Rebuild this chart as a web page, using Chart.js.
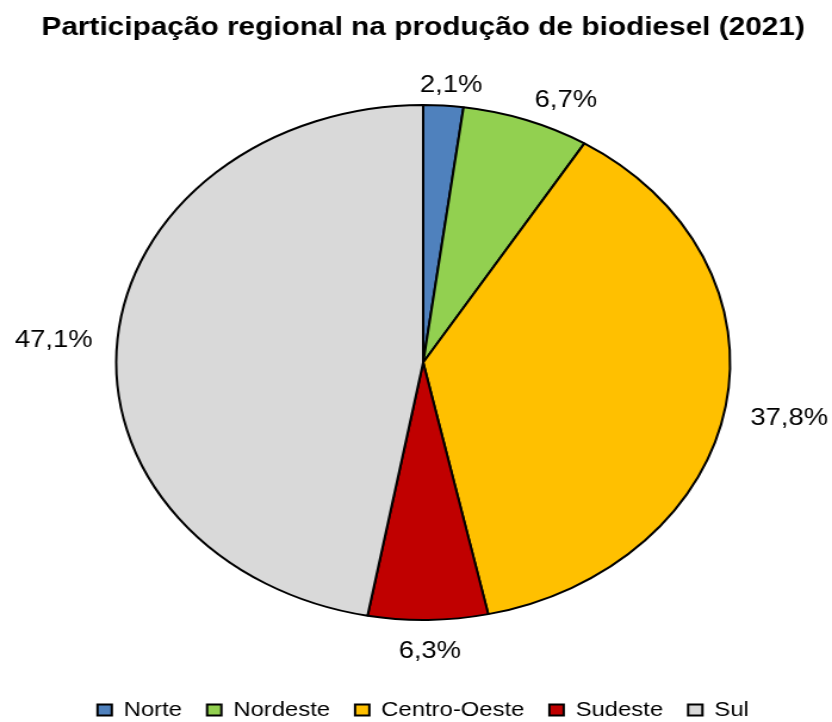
<!DOCTYPE html>
<html><head><meta charset="utf-8">
<script src="https://cdn.jsdelivr.net/npm/chart.js@4/dist/chart.umd.min.js"></script>
<style>
html,body{margin:0;padding:0;background:#fff;overflow:hidden}
#wrap{width:698px;height:722px;transform:scaleX(1.192);transform-origin:0 0}
</style></head><body>
<div id="wrap"><canvas id="c" width="698" height="722"></canvas></div>
<script>
const chartTitle = 'Participação regional na produção de biodiesel (2021)';
const regions = ['Norte', 'Nordeste', 'Centro-Oeste', 'Sudeste', 'Sul'];
const shares = [2.1, 6.7, 37.8, 6.3, 47.1];
const sliceColors = ['#4F81BD', '#92D050', '#FFC000', '#C00000', '#D9D9D9'];

const fmt = v => v.toFixed(1).replace('.', ',') + '%';

const layoutFix = {
  id: 'layoutFix',
  afterLayout(chart) {
    const a = chart.chartArea;
    a.top = 104; a.bottom = 621; a.height = a.bottom - a.top;
    const lg = chart.legend;
    if (lg) {
      const h = lg.bottom - lg.top;
      lg.top = 679; lg.bottom = lg.top + h;
    }
  }
};

const outsideLabels = {
  id: 'outsideLabels',
  afterDatasetsDraw(chart) {
    const ctx = chart.ctx;
    const meta = chart.getDatasetMeta(0);
    const gapX = 21, gapY = 17;
    ctx.save();
    ctx.font = '23px "Liberation Sans", Arial, sans-serif';
    ctx.fillStyle = '#000';
    ctx.textAlign = 'center';
    ctx.textBaseline = 'alphabetic';
    const clamp = v => Math.max(-1, Math.min(1, v));
    meta.data.forEach((arc, i) => {
      const p = arc.getProps(['x', 'y', 'startAngle', 'endAngle', 'outerRadius'], true);
      const mid = (p.startAngle + p.endAngle) / 2;
      const dx = Math.cos(mid), dy = Math.sin(mid);
      const txt = fmt(shares[i]);
      const hw = ctx.measureText(txt).width / 2, hh = 9;
      const ax = p.x + (p.outerRadius + gapX) * dx;
      const ay = p.y + (p.outerRadius + gapY) * dy;
      const cx = ax + hw * clamp(3 * dx);
      const cy = ay + hh * clamp(3 * dy);
      ctx.fillText(txt, cx, cy + 12);
    });
    ctx.restore();
  }
};

new Chart(document.getElementById('c'), {
  type: 'pie',
  data: {
    labels: regions,
    datasets: [{
      data: shares,
      backgroundColor: sliceColors,
      borderColor: '#000',
      borderWidth: 2
    }]
  },
  options: {
    responsive: false,
    animation: false,
    layout: { padding: { left: 12, right: 0, top: 0, bottom: 0 } },
    plugins: {
      title: {
        display: true,
        text: chartTitle,
        color: '#000',
        font: { family: '"Liberation Sans", Arial, sans-serif', size: 25, weight: 'bold' },
        padding: { top: 13, bottom: 20 }
      },
      legend: {
        display: true,
        position: 'bottom',
        labels: {
          color: '#000',
          font: { family: '"Liberation Sans", Arial, sans-serif', size: 20 },
          boxWidth: 12,
          boxHeight: 11,
          padding: 21
        }
      },
      tooltip: { enabled: false }
    }
  },
  plugins: [layoutFix, outsideLabels]
});
</script>
</body></html>
